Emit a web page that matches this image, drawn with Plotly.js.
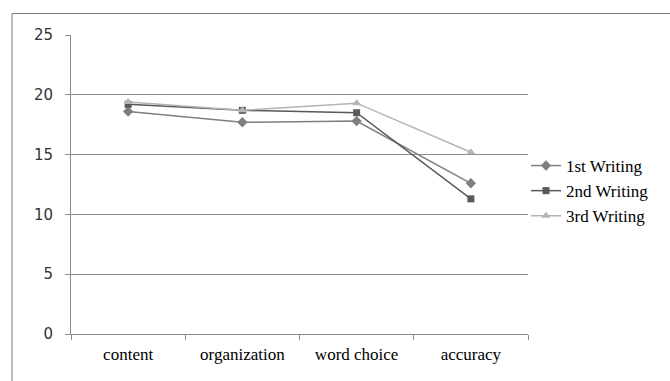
<!DOCTYPE html>
<html><head><meta charset="utf-8">
<script src="https://cdn.plot.ly/plotly-3.0.1.min.js"></script>
<style>html,body{margin:0;padding:0;background:#fff;}</style>
</head><body>
<div id="chart" style="width:670px;height:381px;"></div>
<script>
const categories = ["content", "organization", "word choice", "accuracy"];
const seriesNames = ["1st Writing", "2nd Writing", "3rd Writing"];
const writing1 = [18.6, 17.7, 17.8, 12.6];
const writing2 = [19.2, 18.7, 18.5, 11.3];
const writing3 = [19.4, 18.7, 19.3, 15.2];
const yTicks = [0, 5, 10, 15, 20, 25];

const colors = ["#7f7f7f", "#595959", "#b4b4b4"];
const symbols = ["diamond", "square", "triangle-up"];
const data = [writing1, writing2, writing3].map((ys, i) => ({
  type: "scatter", mode: "lines+markers", name: seriesNames[i],
  x: categories, y: ys,
  line: {color: colors[i], width: 1.5},
  marker: {symbol: symbols[i], color: colors[i], size: i === 1 ? 7 : 8}
}));

const L = 71, R = 528, T = 35, B = 334, W = 670, H = 381;
const px = v => (v - L) / (R - L);
const py = v => (B - v) / (B - T);

const layout = {
  width: W, height: H,
  margin: {l: L, r: W - R, t: T, b: H - B, pad: 0},
  paper_bgcolor: "#fff", plot_bgcolor: "#fff",
  showlegend: true,
  legend: {x: px(526), y: py(148), xanchor: "left", yanchor: "top",
    font: {family: "Liberation Serif", size: 17, color: "#000"},
    itemwidth: 30, tracegroupgap: 0, bgcolor: "rgba(0,0,0,0)"},
  xaxis: {type: "category", tickson: "boundaries", ticks: "outside", ticklen: 5,
    tickcolor: "#8c8c8c", showline: true, linecolor: "#8c8c8c", linewidth: 1,
    showgrid: false, zeroline: false, range: [-0.5, 3.5],
    tickfont: {family: "Liberation Serif", size: 17, color: "#000"},
    ticklabelstandoff: 5},
  yaxis: {range: [0, 25], tickvals: yTicks, ticktext: yTicks.map(String),
    ticks: "outside", ticklen: 5, tickcolor: "#8c8c8c",
    showline: true, linecolor: "#8c8c8c", linewidth: 1,
    showgrid: true, gridcolor: "#8c8c8c", gridwidth: 1, zeroline: false,
    tickfont: {family: "DejaVu Sans", size: 15, color: "#333"},
    ticklabelstandoff: 9},
  shapes: [
    {type: "line", xref: "paper", yref: "paper", x0: px(12), x1: px(12), y0: py(13.5), y1: py(390),
      line: {color: "#7a7a7a", width: 1}},
    {type: "line", xref: "paper", yref: "paper", x0: px(12), x1: px(680), y0: py(13.5), y1: py(13.5),
      line: {color: "#7a7a7a", width: 1}}
  ]
};
Plotly.newPlot("chart", data, layout, {displayModeBar: false, staticPlot: true});
</script>
</body></html>
